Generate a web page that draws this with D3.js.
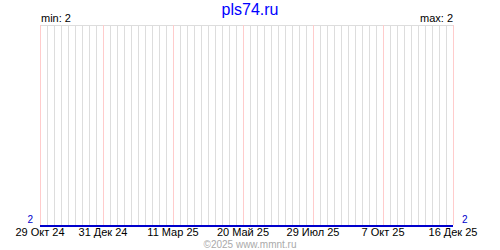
<!DOCTYPE html>
<html><head><meta charset="utf-8">
<script src="https://cdn.jsdelivr.net/npm/d3@7"></script>
<style>body{margin:0;background:#fff}svg{display:block}text{font-family:"Liberation Sans",Arial,sans-serif}</style>
</head><body>
<svg id="c" width="500" height="250"></svg>
<script>
const title = "pls74.ru";
const credit = "©2025 www.mmnt.ru";
const dates = ["2024-10-29","2025-12-16"];
const values = [2, 2];
const tickDates = ["2024-10-29","2024-12-31","2025-03-11","2025-05-20","2025-07-29","2025-10-07","2025-12-16"];
const tickLabels = ["29 Окт 24","31 Дек 24","11 Мар 25","20 Май 25","29 Июл 25","7 Окт 25","16 Дек 25"];

const parse = d3.utcParse("%Y-%m-%d");
const svg = d3.select("#c");
const L = 40, R = 453, T = 25, B = 225;
const x = d3.scaleUtc().domain([parse(dates[0]), parse(dates[dates.length-1])]).range([L, R]);
const minV = d3.min(values), maxV = d3.max(values);
const y = d3.scaleLinear().domain([minV, maxV === minV ? minV + 1 : maxV]).range([B, T]);

// weekly grid
const weekDates = d3.utcTuesday.range(x.domain()[0], d3.utcDay.offset(x.domain()[1], 1));
const tickSet = new Set(tickDates.map(d => +parse(d)));
svg.append("line").attr("x1", L).attr("x2", R).attr("y1", T+0.5).attr("y2", T+0.5).attr("stroke", "#dddddd");
svg.selectAll("line.g").data(weekDates.filter(d => !tickSet.has(+d))).join("line")
  .attr("x1", d => Math.round(x(d))+0.5).attr("x2", d => Math.round(x(d))+0.5)
  .attr("y1", T).attr("y2", B).attr("stroke", "#dddddd");
svg.selectAll("line.r").data(tickDates.map(parse)).join("line")
  .attr("x1", d => Math.round(x(d))+0.5).attr("x2", d => Math.round(x(d))+0.5)
  .attr("y1", T).attr("y2", B).attr("stroke", "#ffcccc");

// data line
const line = d3.line().x((d,i) => x(parse(dates[i]))).y(d => Math.round(y(d))+1);
svg.append("path").datum(values).attr("d", line).attr("fill", "none").attr("stroke", "#0000cc").attr("stroke-width", 2);

// x labels
svg.selectAll("text.x").data(tickDates).join("text")
  .attr("x", d => x(parse(d))).attr("y", 236).attr("text-anchor", "middle")
  .attr("font-size", 11).attr("fill", "#000").text((d,i) => tickLabels[i]);

// y labels
svg.append("text").attr("x", 33).attr("y", 223).attr("text-anchor", "end").attr("font-size", 10).attr("fill", "#0000cc").text(values[0]);
svg.append("text").attr("x", 462).attr("y", 223).attr("text-anchor", "start").attr("font-size", 10).attr("fill", "#0000cc").text(values[values.length-1]);

svg.append("text").attr("x", 41).attr("y", 22).attr("font-size", 11).attr("fill", "#000").text("min: " + minV);
svg.append("text").attr("x", 453).attr("y", 22).attr("text-anchor", "end").attr("font-size", 11).attr("fill", "#000").text("max: " + maxV);

svg.append("text").attr("x", 250).attr("y", 15).attr("text-anchor", "middle").attr("font-size", 16).attr("fill", "#0000ff").text(title);
svg.append("text").attr("x", 250).attr("y", 248).attr("text-anchor", "middle").attr("font-size", 10).attr("fill", "#aaaaaa").text(credit);
</script>
</body></html>
